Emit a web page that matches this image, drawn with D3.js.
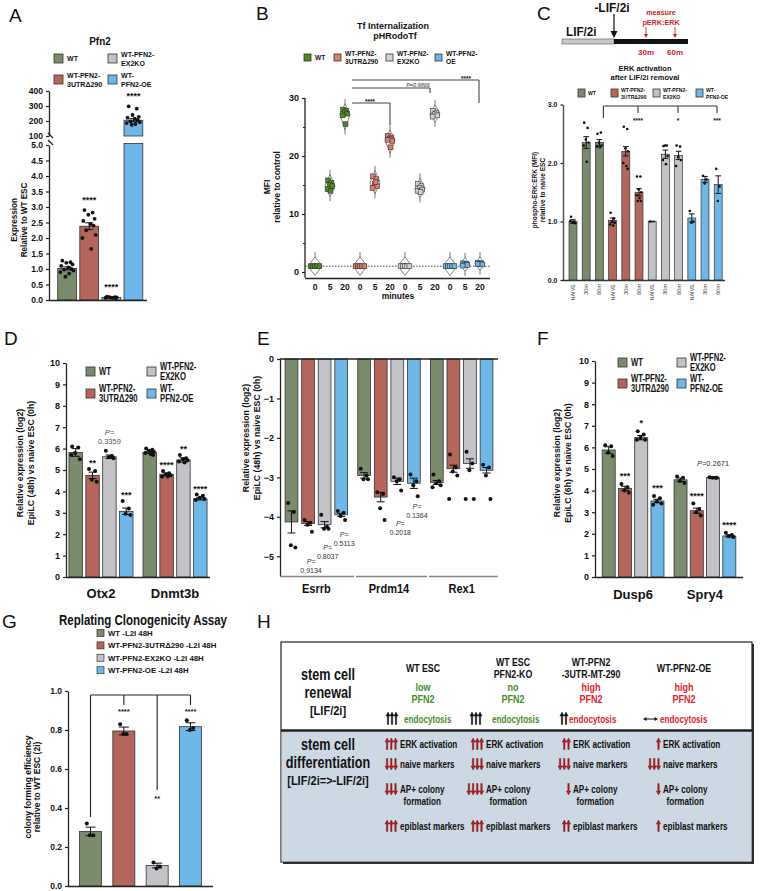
<!DOCTYPE html>
<html><head><meta charset="utf-8">
<script src="https://cdn.jsdelivr.net/npm/d3@7"></script>
<style>body{margin:0;background:#fff}</style>
</head><body>
<svg id="fig" width="763" height="891"></svg>
<script>
// ================= DATA =================
const groupNames = ["WT","WT-PFN2-3UTRΔ290","WT-PFN2-EX2KO","WT-PFN2-OE"];
const legendLines = [["WT"],["WT-PFN2-","3UTRΔ290"],["WT-PFN2-","EX2KO"],["WT-","PFN2-OE"]];
const barColors = ["#7b8c6d","#b5655a","#c3c3c7","#6db8e9"];
const tfColors = ["#4f8a1f","#e27c6c","#d4d4d4","#6ab6e6"];

// Panel A (Pfn2)
const aMeans = [1.02, 2.38, 0.08, 205];
const aErr = [0.05, 0.11, 0.01, 10];
const aPoints = [
  [1.27,1.22,1.2,1.15,1.1,1.05,1.0,0.98,0.95,0.9,0.85,0.75],
  [2.9,2.82,2.75,2.62,2.55,2.45,2.4,2.25,2.1,2.0,1.65],
  [0.1,0.09,0.08,0.08,0.07,0.07,0.06,0.1],
  [298,282,240,228,222,215,205,198,192,186,180,175]];
const aStars = ["","****","****","****"];
const aTicksLow = [0,0.5,1,1.5,2,2.5,3,3.5,4,4.5,5];
const aTicksHigh = [100,200,300,400];

// Panel B (Tf internalization)
const bTimes = ["0","5","20"];
const bPoints = [
  [[1,1,1,1,1],[15.8,15.4,15,14.8,14.3,14],[28,27.8,27.5,27.3,27,25.5]],
  [[1,1,1,1,1],[16.5,16,15.2,14.8,14.5,15.5],[23.5,23.2,23,22.6,22.8,21.5]],
  [[1,1,1,1,1],[15.2,14.8,14.5,14.2,14,13.8],[27.8,27.5,27.2,27,26.8]],
  [[1,1,1,1,1],[1.5,1.4,1.3,1.2,1.1],[1.6,1.5,1.4,1.3,1.4]]];
const bTicks = [0,10,20,30];

// Panel C (ERK activation)
const cLabels = ["NAIVE","30m","60m","NAIVE","30m","60m","NAIVE","30m","60m","NAIVE","30m","60m"];
const cMeans = [1.0,2.35,2.35,1.02,2.2,1.5,1.0,2.15,2.13,1.06,1.72,1.63];
const cErr = [0.03,0.1,0.05,0.04,0.08,0.06,0.005,0.07,0.07,0.07,0.05,0.15];
const cPoints = [
  [1.08,1.0,0.98,0.97,1.01],[2.69,2.6,2.4,2.35,2.3,2.02],[2.5,2.52,2.35,2.3,2.28,2.27],
  [1.15,1.05,1.0,0.98,0.95,0.93],[2.62,2.58,2.25,2.2,2.0,1.95,1.9],[1.77,1.77,1.55,1.5,1.45,1.4,1.35,1.35],
  [1.0],[2.29,2.3,2.3,2.12,2.05,1.98],[2.3,2.28,2.1,2.05,1.95],
  [1.18,1.0,0.98],[1.78,1.72,1.65],[1.9,1.6,1.35]];
const cTicks = [0,1,2,3];
const cSig = ["****","*","***"];

// Panel D (EpiLC 48h)
const dGenes = ["Otx2","Dnmt3b"];
const dMeans = [[5.82,4.75,5.62,3.07],[5.82,4.8,5.47,3.65]];
const dErr = [[0.18,0.15,0.08,0.15],[0.05,0.06,0.1,0.05]];
const dPoints = [
  [[6.1,6.05,5.8,5.5,5.7],[5.05,4.95,4.55,4.45],[5.9,5.65,5.6,5.55],[3.55,3.2,2.95,2.9]],
  [[6.0,5.95,5.9,5.85,5.8,5.75,5.7],[4.95,4.85,4.8,4.75,4.7,4.7],[5.7,5.55,5.5,5.45,5.4,5.35],[3.85,3.8,3.7,3.65,3.6]]];
const dLabels = [["","**","P=|0.3359","***"],["","****","**","****"]];

// Panel E (naive markers)
const eGenes = ["Esrrb","Prdm14","Rex1"];
const eMeans = [[-4.13,-4.17,-4.2,-3.95],[-2.95,-3.5,-3.1,-3.15],[-3.13,-2.78,-2.65,-2.82]];
const eErr = [[0.28,0.05,0.08,0.04],[0.07,0.12,0.08,0.13],[0.05,0.09,0.12,0.07]];
const ePoints = [
  [[-3.65,-3.88,-4.72,-4.78],[-4.08,-4.15,-4.2,-4.38],[-3.95,-4.25,-4.3,-4.3],[-3.85,-3.9,-3.98,-4.08]],
  [[-2.78,-2.95,-3.05,-3.05],[-3.38,-3.42,-3.78,-4.08],[-3.0,-3.05,-3.1,-3.33],[-2.93,-3.1,-3.2,-3.48]],
  [[-2.93,-3.1,-3.15,-3.2,-3.25],[-2.42,-2.75,-2.85,-2.95,-3.55],[-2.35,-2.65,-2.82,-3.55,-3.55],[-2.68,-2.75,-2.95,-3.55]]];
const eLabels = [["","0.9134","0.8037","0.5113"],["","","0.2018","0.1364"],["","","",""]];
const eTicks = [0,-1,-2,-3,-4,-5];

// Panel F (EpiLC 6h)
const fGenes = ["Dusp6","Spry4"];
const fMeans = [[5.88,4.1,6.45,3.52],[4.5,3.07,4.6,1.9]];
const fErr = [[0.15,0.1,0.1,0.08],[0.08,0.12,0.03,0.05]];
const fPoints = [
  [[6.1,6.05,5.75,5.6],[4.3,4.15,4.0,3.9],[6.75,6.6,6.45,6.35,6.35],[3.75,3.65,3.5,3.4,3.35]],
  [[4.65,4.6,4.45,4.35],[3.4,3.15,3.0,2.85],[4.62,4.6,4.6,4.6],[2.05,1.95,1.9,1.85]]];
const fLabels = [["","***","*","***"],["","****","P=0.2671","****"]];

// Panel G (replating)
const gLegend = ["WT -L2I 48H","WT-PFN2-3UTRΔ290 -L2I 48H","WT-PFN2-EX2KO  -L2I 48H","WT-PFN2-OE -L2I 48H"];
const gMeans = [0.28,0.795,0.105,0.817];
const gErr = [0.022,0.02,0.012,0.02];
const gPoints = [[0.32,0.26,0.26],[0.83,0.78,0.78],[0.12,0.1,0.09],[0.85,0.81,0.80]];
const gStars = ["","****","**","****"];
const gTicks = [0,0.2,0.4,0.6,0.8,1.0];

// Panel H (summary table)
const hCols = [["WT ESC"],["WT ESC","PFN2-KO"],["WT-PFN2","-3UTR-MT-290"],["WT-PFN2-OE"]];
const hLevel = [["low","PFN2"],["no","PFN2"],["high","PFN2"],["high","PFN2"]];
const hLevelHigh = [false,false,true,true];
const hEndo = [3,3,2,0];
const hRows = [
  {text:["ERK activation"], counts:[3,3,2,1], up:true},
  {text:["naive markers"], counts:[3,3,3,3], up:false},
  {text:["AP+ colony","formation"], counts:[3,4,1,1], up:false},
  {text:["epiblast markers"], counts:[3,3,2,1], up:true}];

// ================= DRAWING =================
const svg = d3.select("#fig");
const F = "'Liberation Sans',Arial,sans-serif";
const jit = [-0.28,0.2,-0.05,0.32,-0.35,0.08,0.26,-0.18,0.38,-0.4,0.12,-0.1];

function condense(t, k) {
  if (k === 1) return;
  const L = t.node().getComputedTextLength();
  if (L > 0) t.attr("textLength", L * k).attr("lengthAdjust", "spacingAndGlyphs");
}
function T(g, x, y, s, o = {}) {
  const t = g.append("text").attr("x", x).attr("y", y).text(s)
    .attr("font-family", F).attr("font-size", o.fs || 9)
    .attr("font-weight", o.fw || "bold").attr("fill", o.fill || "#111")
    .attr("text-anchor", o.anchor || "start");
  if (o.rot) t.attr("transform", `rotate(${o.rot},${x},${y})`);
  if (o.italic) t.attr("font-style", "italic");
  condense(t, o.k === undefined ? 1 : o.k);
  return t;
}
function letter(g, x, y, s) { T(g, x, y, s, {fs: 19, fw: "normal"}); }
function styleAxis(sel, fs) {
  sel.select(".domain").attr("stroke", "#222").attr("stroke-width", 1.3);
  sel.selectAll(".tick line").attr("stroke", "#222").attr("stroke-width", 1.2);
  sel.selectAll(".tick text").attr("font-family", F).attr("font-size", fs || 9)
    .attr("font-weight", "bold").attr("fill", "#111");
}
function line(g, x1, y1, x2, y2, c = "#222", w = 1) {
  return g.append("line").attr("x1", x1).attr("y1", y1).attr("x2", x2).attr("y2", y2)
    .attr("stroke", c).attr("stroke-width", w);
}
function errBar(g, cx, ya, yb, cap) {
  line(g, cx, ya, cx, yb, "#111", 1);
  line(g, cx - cap, ya, cx + cap, ya, "#111", 1);
  line(g, cx - cap, yb, cx + cap, yb, "#111", 1);
}
function legend(g, pos, sq, fs, lh, k) {
  pos.forEach(([x, y, i]) => {
    g.append("rect").attr("x", x).attr("y", y).attr("width", sq).attr("height", sq)
      .attr("fill", barColors[i]).attr("stroke", "#333").attr("stroke-width", 0.8);
    const ls = legendLines[i];
    const y0 = y + sq / 2 + fs * 0.35 - (ls.length - 1) * lh / 2;
    ls.forEach((s, j) => T(g, x + sq + 4, y0 + j * lh, s, {fs, k}));
  });
}
function yLabel(g, x, cy, lines, fs, k, gap) {
  lines.forEach((s, j) => T(g, x + j * (gap || fs + 2), cy, s, {fs, rot: -90, anchor: "middle", k}));
}
function pLabel(g, x, y, num, fs, fill, inline) {
  const t = g.append("text").attr("x", x).attr("y", y).attr("font-family", F)
    .attr("font-size", fs).attr("fill", fill).attr("text-anchor", "middle");
  t.append("tspan").attr("font-style", "italic").text("P=");
  if (inline) t.append("tspan").text(num);
  else T(g, x, y + fs + 2, num, {fs, fw: "normal", fill, anchor: "middle"});
}

// ---------- Panel A ----------
(function () {
  const g = svg.append("g");
  letter(g, 9, 22, "A");
  T(g, 100, 45, "Pfn2", {fs: 11, anchor: "middle", k: 0.9});
  legend(g, [[54, 54, 0], [108, 54, 2], [54, 75, 1], [108, 75, 3]], 9, 8, 9, 0.88);
  const x = d3.scaleBand().domain(d3.range(4)).range([55.5, 145]).paddingInner(0.15).paddingOuter(0.1);
  const yl = d3.scaleLinear().domain([0, 5]).range([300, 145]);
  const yh = d3.scaleLinear().domain([100, 400]).range([136, 91]);
  const yv = v => v <= 5 ? yl(v) : yh(v);
  aMeans.forEach((m, i) => {
    const bx = x(i), bw = x.bandwidth(), cx = bx + bw / 2;
    if (m <= 5) {
      g.append("rect").attr("x", bx).attr("y", yl(m)).attr("width", bw).attr("height", yl(0) - yl(m))
        .attr("fill", barColors[i]).attr("stroke", "#333").attr("stroke-width", 0.8);
      errBar(g, cx, yl(m + aErr[i]), yl(Math.max(0, m - aErr[i])), 4);
    } else {
      g.append("rect").attr("x", bx).attr("y", yl(5) - 1.5).attr("width", bw).attr("height", yl(0) - yl(5) + 1.5)
        .attr("fill", barColors[i]).attr("stroke", "#333").attr("stroke-width", 0.8);
      g.append("rect").attr("x", bx).attr("y", yh(m)).attr("width", bw).attr("height", yh(100) - yh(m))
        .attr("fill", barColors[i]).attr("stroke", "#333").attr("stroke-width", 0.8);
      errBar(g, cx, yh(m + aErr[i]), yh(m - aErr[i]), 4);
    }
    aPoints[i].forEach((v, j) => g.append("circle").attr("cx", cx + jit[j % jit.length] * bw * 0.9)
      .attr("cy", yv(v)).attr("r", 1.9).attr("fill", "#111"));
    if (aStars[i]) T(g, cx, yv(d3.max(aPoints[i])) - 7, aStars[i], {fs: 9, anchor: "middle"});
  });
  const ax1 = g.append("g").attr("transform", "translate(49,0)")
    .call(d3.axisLeft(yl).tickValues(aTicksLow).tickFormat(d3.format(".1f")).tickSize(3).tickSizeOuter(0));
  styleAxis(ax1, 8.5);
  const ax2 = g.append("g").attr("transform", "translate(49,0)")
    .call(d3.axisLeft(yh).tickValues(aTicksHigh).tickFormat(d3.format("d")).tickSize(3).tickSizeOuter(0));
  styleAxis(ax2, 8.5);
  line(g, 48, 133, 53, 138, "#222", 1.3);
  line(g, 48, 140, 53, 145, "#222", 1.3);
  line(g, 49, 300.5, 147, 300.5, "#222", 1.3);
  yLabel(g, 17, 220, ["Expression", "Relative to WT ESC"], 9, 0.9, 10);
})();

// ---------- Panel B ----------
(function () {
  const g = svg.append("g");
  letter(g, 256, 20, "B");
  T(g, 393, 29, "Tf Internalization", {fs: 9, anchor: "middle"});
  T(g, 395, 39, "pHRodoTf", {fs: 9, anchor: "middle"});
  const lp = [[304, 0, ["WT"]], [334, 1, ["WT-PFN2-", "3UTRΔ290"]], [386, 2, ["WT-PFN2-", "EX2KO"]], [435, 3, ["WT-PFN2-", "OE"]]];
  lp.forEach(([lx, i, ls]) => {
    g.append("rect").attr("x", lx).attr("y", 54).attr("width", 7).attr("height", 7)
      .attr("fill", tfColors[i]).attr("stroke", "#333").attr("stroke-width", 0.8);
    const y0 = 60 - (ls.length - 1) * 4;
    ls.forEach((s, j) => T(g, lx + 11, y0 + j * 8, s, {fs: 7, k: 0.95}));
  });
  const idx = d3.range(12);
  const x = d3.scalePoint().domain(idx).range([315, 480]);
  const y = d3.scaleLinear().domain([-1, 30]).range([277.8, 98]);
  g.append("line").attr("x1", 305).attr("x2", 490).attr("y1", y(1)).attr("y2", y(1))
    .attr("stroke", "#333").attr("stroke-width", 0.9).attr("stroke-dasharray", "1.5,1.5");
  bPoints.forEach((grp, gi) => grp.forEach((vals, ti) => {
    const cx = x(gi * 3 + ti);
    const mn = d3.min(vals), mx = d3.max(vals), md = d3.mean(vals);
    const zero = mx === mn;
    const top = zero ? y(mx + 1.6) : y(mx + 1.0), bot = zero ? y(mn - 1.6) : y(mn - 1.0);
    const w = zero ? 7 : 5;
    line(g, cx, zero ? y(mx + 2.4) : y(mx + 1.8), cx, zero ? y(mn - 1.2) : y(mn - 1.8), "#777", 1);
    g.append("path").attr("d", `M${cx},${top}L${cx + w},${y(md)}L${cx},${bot}L${cx - w},${y(md)}Z`)
      .attr("fill", "#fff").attr("stroke", "#666").attr("stroke-width", 0.8);
    vals.forEach((v, j) => {
      const ox = zero ? (j - (vals.length - 1) / 2) * 2.2 : jit[j] * 7;
      g.append("rect").attr("x", cx + ox - 2.4).attr("y", y(v) - 2.4).attr("width", 4.8).attr("height", 4.8)
        .attr("fill", tfColors[gi]).attr("stroke", "#333").attr("stroke-width", 0.6);
    });
  }));
  const ay = g.append("g").attr("transform", "translate(305,0)")
    .call(d3.axisLeft(y).tickValues(bTicks).tickSize(3).tickSizeOuter(0));
  styleAxis(ay, 9);
  ay.select(".domain").attr("d", `M0,${y(-1)}V${y(30)}`);
  const am = g.append("g").attr("transform", "translate(305,0)")
    .call(d3.axisLeft(y).tickValues([5, 15, 25]).tickSize(2).tickFormat(""));
  am.select(".domain").remove();
  am.selectAll(".tick line").attr("stroke", "#222");
  line(g, 305, 278.5, 490, 278.5, "#222", 1.3);
  idx.forEach(i => T(g, x(i), 290, bTimes[i % 3], {fs: 8.5, anchor: "middle"}));
  T(g, 398, 299, "minutes", {fs: 8.5, anchor: "middle"});
  yLabel(g, 270, 187, ["MFI", "relative to control"], 9, 0.95, 10);
  line(g, 352, 80, 479, 80, "#444", 1.1); line(g, 479, 80, 479, 103, "#444", 1.1);
  T(g, 466, 81, "****", {fs: 6.5, anchor: "middle"});
  line(g, 352, 88, 430, 88, "#444", 1.1); line(g, 430, 88, 430, 93, "#444", 1.1);
  g.append("text").attr("x", 418).attr("y", 86.5).attr("font-family", F).attr("font-size", 5.5)
    .attr("fill", "#333").attr("text-anchor", "middle").text("P=0.9866").attr("font-style", "italic");
  line(g, 352, 103, 390, 103, "#444", 1.1); line(g, 390, 103, 390, 125, "#444", 1.1);
  T(g, 370, 104, "****", {fs: 6.5, anchor: "middle"});
})();

// ---------- Panel C ----------
(function () {
  const g = svg.append("g");
  letter(g, 537, 20, "C");
  T(g, 612, 12, "-LIF/2i", {fs: 13, anchor: "middle", k: 0.92});
  T(g, 566, 36, "LIF/2i", {fs: 13, k: 0.9});
  g.append("rect").attr("x", 562).attr("y", 39).attr("width", 52).attr("height", 5)
    .attr("fill", "#c8c8c8").attr("stroke", "#555").attr("stroke-width", 0.6);
  g.append("rect").attr("x", 614).attr("y", 39).attr("width", 74).attr("height", 5).attr("fill", "#111");
  line(g, 614, 14, 614, 33, "#111", 1.2);
  g.append("path").attr("d", "M610.5,31L617.5,31L614,38Z").attr("fill", "#111");
  const red = "#cc1f1f";
  T(g, 661, 15, "measure", {fs: 8, anchor: "middle", fill: red, k: 0.9});
  T(g, 661, 25, "pERK:ERK", {fs: 8, anchor: "middle", fill: red, k: 0.9});
  [646, 675].forEach(ax => {
    line(g, ax, 27, ax, 35, red, 0.9);
    g.append("path").attr("d", `M${ax - 2},34L${ax + 2},34L${ax},38Z`).attr("fill", red);
  });
  T(g, 646, 55, "30m", {fs: 8, anchor: "middle", fill: red});
  T(g, 675, 55, "60m", {fs: 8, anchor: "middle", fill: red});
  T(g, 645, 71, "ERK activation", {fs: 7.5, anchor: "middle"});
  T(g, 645, 80, "after LIF/2i removal", {fs: 7.5, anchor: "middle"});
  [[578, 0], [611, 1], [653, 2], [696, 3]].forEach(([lx, i]) => {
    g.append("rect").attr("x", lx).attr("y", 89).attr("width", 7).attr("height", 8)
      .attr("fill", barColors[i]).attr("stroke", "#333").attr("stroke-width", 0.8);
    const ls = legendLines[i];
    const y0 = 95 - (ls.length - 1) * 3.5;
    ls.forEach((s, j) => T(g, lx + 10, y0 + j * 7.5, s, {fs: 6, k: 0.85}));
  });
  const x = d3.scaleBand().domain(d3.range(12)).range([567.7, 723.5]).paddingInner(0.4).paddingOuter(0.1);
  const y = d3.scaleLinear().domain([0, 3]).range([280, 104.5]);
  cMeans.forEach((m, i) => {
    const bx = x(i), bw = x.bandwidth(), cx = bx + bw / 2;
    g.append("rect").attr("x", bx).attr("y", y(m)).attr("width", bw).attr("height", y(0) - y(m))
      .attr("fill", barColors[Math.floor(i / 3)]).attr("stroke", "#333").attr("stroke-width", 0.7);
    errBar(g, cx, y(m + cErr[i]), y(m - cErr[i]), 2.8);
    cPoints[i].forEach((v, j) => g.append("circle").attr("cx", cx + jit[j] * bw * 0.9).attr("cy", y(v))
      .attr("r", 1.3).attr("fill", "#111"));
    T(g, cx + 2, 284, cLabels[i], {fs: 5.5, fw: "normal", fill: "#444", anchor: "end", rot: -90});
  });
  const ay = g.append("g").attr("transform", "translate(563,0)")
    .call(d3.axisLeft(y).tickValues(cTicks).tickSize(2.5).tickSizeOuter(0));
  styleAxis(ay, 7);
  ay.select(".domain").attr("stroke-width", 1.5).attr("stroke", "#555");
  line(g, 563, 280.5, 725, 280.5, "#333", 1.3);
  yLabel(g, 537, 190, ["phospho-ERK:ERK (MFI)", "relative to naive ESC"], 6.5, 1, 8);
  const bx0 = x(2) + x.bandwidth() / 2 + 4;
  line(g, bx0, 106, 717, 106, "#333", 1.1);
  line(g, bx0, 106, bx0, 118, "#333", 1.1);
  [638, 678, 717].forEach((tx, j) => {
    line(g, tx, 106, tx, 113, "#333", 1.1);
    T(g, tx, 123, cSig[j], {fs: 6.5, anchor: "middle"});
  });
})();

// ---------- grouped bar helper ----------
function grouped(cfg) {
  const g = svg.append("g");
  const x0 = d3.scaleBand().domain(d3.range(cfg.means.length)).range(cfg.xr).paddingInner(cfg.p).paddingOuter(cfg.po);
  const x1 = d3.scaleBand().domain(d3.range(4)).range([0, x0.bandwidth()]).paddingInner(cfg.ip);
  const y = d3.scaleLinear().domain(cfg.yd).range(cfg.yr);
  cfg.means.forEach((ms, gi) => ms.forEach((m, bi) => {
    const bx = x0(gi) + x1(bi), bw = x1.bandwidth(), cx = bx + bw / 2;
    g.append("rect").attr("x", bx).attr("y", Math.min(y(0), y(m))).attr("width", bw)
      .attr("height", Math.abs(y(0) - y(m))).attr("fill", barColors[bi]).attr("stroke", "#333").attr("stroke-width", 0.8);
    const e = cfg.errs[gi][bi];
    errBar(g, cx, y(m + e), y(m - e), 4);
    cfg.points[gi][bi].forEach((v, j) => g.append("circle").attr("cx", cx + jit[j] * bw * 0.95)
      .attr("cy", y(v)).attr("r", 2).attr("fill", "#111"));
    if (cfg.onBar) cfg.onBar(g, gi, bi, cx, y);
  }));
  const ay = g.append("g").attr("transform", `translate(${cfg.xr[0]},0)`)
    .call(d3.axisLeft(y).tickValues(cfg.ticks).tickFormat(d3.format("d")).tickSize(3).tickSizeOuter(0));
  styleAxis(ay, 9);
  cfg.genes.forEach((s, gi) => T(g, x0(gi) + x0.bandwidth() / 2, cfg.catY, s, {fs: cfg.catFs, anchor: "middle", k: cfg.catK}));
  return {g, x0, x1, y};
}

// ---------- Panel D ----------
(function () {
  const r = grouped({
    means: dMeans, errs: dErr, points: dPoints, genes: dGenes, xr: [66, 210], p: 0.135, po: 0.04, ip: 0.2,
    yd: [0, 10], yr: [577, 363], ticks: d3.range(0, 11), catY: 598, catFs: 13, catK: 1,
    onBar: (g, gi, bi, cx, y) => {
      const lab = dLabels[gi][bi]; if (!lab) return;
      const top = y(d3.max(dPoints[gi][bi].concat([dMeans[gi][bi] + dErr[gi][bi]])));
      if (lab.startsWith("P=")) pLabel(g, cx, top - 16, lab.split("|")[1], 7.5, "#555", false);
      else T(g, cx, top - 3, lab, {fs: 9, anchor: "middle"});
    }
  });
  const g = r.g;
  letter(g, 4, 345, "D");
  line(g, 66, 577.5, 210, 577.5, "#222", 1.3);
  legend(g, [[86, 367, 0], [147, 367, 2], [86, 389, 1], [147, 389, 3]], 9, 10, 9.5, 0.77);
  yLabel(g, 23, 463, ["Relative expression (log2)", "EpiLC (48h) vs naive ESC (0h)"], 9.5, 0.92, 11);
})();

// ---------- Panel E ----------
(function () {
  const off = [[0, 41, 30, 26], [0, 0, 45, 22], [0, 0, 0, 0]];
  const r = grouped({
    means: eMeans, errs: eErr, points: ePoints, genes: eGenes, xr: [280, 498], p: 0.14, po: 0.07, ip: 0.23,
    yd: [-5.5, 0], yr: [576, 359], ticks: eTicks, catY: 593, catFs: 12, catK: 0.92,
    onBar: (g, gi, bi, cx, y) => {
      const lab = eLabels[gi][bi]; if (!lab) return;
      const yb = y(d3.min(ePoints[gi][bi])) + off[gi][bi];
      pLabel(g, cx + 3, yb - 9, lab, 7, "#333", false);
    }
  });
  const g = r.g;
  letter(g, 257, 345, "E");
  line(g, 280, 359, 498, 359, "#222", 1.5);
  [[280, 354], [356, 427], [429, 498]].forEach(([a, b]) => line(g, a, 576.5, b, 576.5, "#888", 1.6));
  yLabel(g, 249, 438, ["Relative expression (log2)", "EpiLC (48h) vs naive ESC (0h)"], 9.5, 0.92, 10.5);
})();

// ---------- Panel F ----------
(function () {
  const r = grouped({
    means: fMeans, errs: fErr, points: fPoints, genes: fGenes, xr: [595, 743], p: 0.14, po: 0.1, ip: 0.2,
    yd: [0, 10], yr: [577, 361], ticks: d3.range(0, 11), catY: 599, catFs: 13, catK: 1,
    onBar: (g, gi, bi, cx, y) => {
      const lab = fLabels[gi][bi]; if (!lab) return;
      const top = y(d3.max(fPoints[gi][bi].concat([fMeans[gi][bi] + fErr[gi][bi]])));
      if (lab.startsWith("P=")) pLabel(g, cx, top - 11, lab.slice(2), 7.5, "#333", true);
      else T(g, cx, top - 5, lab, {fs: 9, anchor: "middle"});
    }
  });
  const g = r.g;
  letter(g, 537, 345, "F");
  line(g, 595, 577.5, 743, 577.5, "#222", 1.3);
  legend(g, [[618, 358, 0], [677, 358, 2], [618, 379, 1], [677, 379, 3]], 9, 10, 9.5, 0.76);
  yLabel(g, 560, 463, ["Relative expression (log2)", "EpiLC (6h) vs naive ESC (0h)"], 9.5, 0.92, 10.5);
})();

// ---------- Panel G ----------
(function () {
  const g = svg.append("g");
  letter(g, 2, 628, "G");
  T(g, 143, 625, "Replating Clonogenicity Assay", {fs: 14, anchor: "middle", k: 0.82});
  gLegend.forEach((s, i) => {
    const cy = 633 + i * 12.4;
    g.append("rect").attr("x", 97).attr("y", cy - 3.5).attr("width", 7).attr("height", 7)
      .attr("fill", barColors[i]).attr("stroke", "#333").attr("stroke-width", 0.7);
    T(g, 108, cy + 2.8, s, {fs: 7.8});
  });
  const x = d3.scaleBand().domain(d3.range(4)).range([68, 213]).paddingInner(0.34).paddingOuter(0.345);
  const y = d3.scaleLinear().domain([0, 1]).range([886, 691]);
  const cxs = [];
  gMeans.forEach((m, i) => {
    const bx = x(i), bw = x.bandwidth(), cx = bx + bw / 2; cxs.push(cx);
    g.append("rect").attr("x", bx).attr("y", y(m)).attr("width", bw).attr("height", y(0) - y(m))
      .attr("fill", barColors[i]).attr("stroke", "#333").attr("stroke-width", 0.8);
    errBar(g, cx, y(m + gErr[i]), y(m - gErr[i]), 5);
    gPoints[i].forEach((v, j) => g.append("circle").attr("cx", cx + jit[j] * bw * 0.6).attr("cy", y(v))
      .attr("r", 2).attr("fill", "#111"));
  });
  const ay = g.append("g").attr("transform", "translate(68,0)")
    .call(d3.axisLeft(y).tickValues(gTicks).tickFormat(d3.format(".1f")).tickSize(3).tickSizeOuter(0));
  styleAxis(ay, 8.5);
  line(g, 68, 886.5, 213, 886.5, "#222", 1.3);
  yLabel(g, 31, 787, ["colony forming efficiency", "relative to WT ESC (2i)"], 8.5, 1, 9);
  const by = 695;
  line(g, cxs[0], by, cxs[3], by, "#222", 1.1);
  line(g, cxs[0], by, cxs[0], 817, "#222", 1.1);
  line(g, cxs[1], by, cxs[1], 705, "#222", 1.1);
  line(g, cxs[2], by, cxs[2], 790, "#222", 1.1);
  line(g, cxs[3], by, cxs[3], 705, "#222", 1.1);
  T(g, cxs[1], 714, gStars[1], {fs: 7.5, anchor: "middle"});
  T(g, cxs[2], 801, gStars[2], {fs: 7.5, anchor: "middle"});
  T(g, cxs[3], 714, gStars[3], {fs: 7.5, anchor: "middle"});
})();

// ---------- Panel H ----------
(function () {
  const g = svg.append("g");
  letter(g, 257, 628, "H");
  g.append("rect").attr("x", 283).attr("y", 644).attr("width", 471).attr("height", 220).attr("fill", "#333");
  g.append("rect").attr("x", 281).attr("y", 642).attr("width", 471).attr("height", 220)
    .attr("fill", "#fff").attr("stroke", "#222").attr("stroke-width", 1.2);
  g.append("rect").attr("x", 281.6).attr("y", 731).attr("width", 469.8).attr("height", 130.4).attr("fill", "#ccd8e3");
  line(g, 281, 730.5, 752, 730.5, "#222", 2.5);
  const green = "#4a8c2a", redT = "#e3232a";
  const big = {fs: 16, anchor: "middle", k: 0.79};
  T(g, 328, 680, "stem cell", big);
  T(g, 328, 698, "renewal", big);
  T(g, 328, 715, "[LIF/2i]", {fs: 12, anchor: "middle", k: 0.92});
  T(g, 328, 750, "stem cell", big);
  T(g, 328, 768, "differentiation", big);
  T(g, 328, 785, "[LIF/2i=>-LIF/2i]", {fs: 12, anchor: "middle", k: 0.92});
  const colC = [423, 513, 591, 684];
  hCols.forEach((ls, c) => {
    const y0 = 672 - (ls.length - 1) * 6;
    ls.forEach((s, j) => T(g, colC[c], y0 + j * 12, s, {fs: 11, anchor: "middle", k: 0.8}));
  });
  hLevel.forEach((ls, c) => ls.forEach((s, j) =>
    T(g, colC[c], 691 + j * 12, s, {fs: 11, anchor: "middle", k: 0.82, fill: hLevelHigh[c] ? redT : green})));
  const endoX = [404, 492, 569, 660], endoArrX = [387, 471, 561];
  function vArrows(x0, yc, n, up, fill, stroke, sp, bigA) {
    for (let i = 0; i < n; i++) {
      const cx = x0 + i * sp;
      const h = bigA ? 6 : 5.5, hw = 2.1;
      const d = up
        ? `M${cx - 0.7},${yc + h}L${cx - 0.7},${yc - h + 3.6}L${cx - hw},${yc - h + 3.6}L${cx},${yc - h - 0.5}L${cx + hw},${yc - h + 3.6}L${cx + 0.7},${yc - h + 3.6}L${cx + 0.7},${yc + h}Z`
        : `M${cx - 0.7},${yc - h}L${cx - 0.7},${yc + h - 3.6}L${cx - hw},${yc + h - 3.6}L${cx},${yc + h + 0.5}L${cx + hw},${yc + h - 3.6}L${cx + 0.7},${yc + h - 3.6}L${cx + 0.7},${yc - h}Z`;
      g.append("path").attr("d", d).attr("fill", fill).attr("stroke", stroke).attr("stroke-width", 0.4);
    }
  }
  const rowF = {fs: 10.7, k: 0.76};
  hEndo.forEach((n, c) => {
    const fill = c < 2 ? green : redT;
    T(g, endoX[c], 723, "endocytosis", {...rowF, fill});
    if (n > 0) vArrows(endoArrX[c] + 1, 718.5, n, true, "#111", "#111", 4, true);
    else {
      line(g, 645, 719, 656, 719, "#111", 1);
      g.append("path").attr("d", "M643,719L646.5,717L646.5,721Z").attr("fill", "#111");
      g.append("path").attr("d", "M658,719L654.5,717L654.5,721Z").attr("fill", "#111");
    }
  });
  const textX = [400, 486, 573, 663];
  const rowY = [748, 768, 793, 830];
  hRows.forEach((row, r) => {
    row.counts.forEach((n, c) => {
      const tx = textX[c];
      const t1 = T(g, tx, rowY[r], row.text[0], rowF);
      if (row.text[1]) {
        const w = +t1.attr("textLength") || t1.node().getComputedTextLength();
        T(g, tx + w / 2, rowY[r] + 12, row.text[1], {...rowF, anchor: "middle"});
      }
      const lastX = tx - 4.5;
      vArrows(lastX - (n - 1) * 4.2, rowY[r] - 4, n, row.up, "#c8161d", "#4a0a0a", 4.2, false);
    });
  });
})();
</script>
</body></html>
